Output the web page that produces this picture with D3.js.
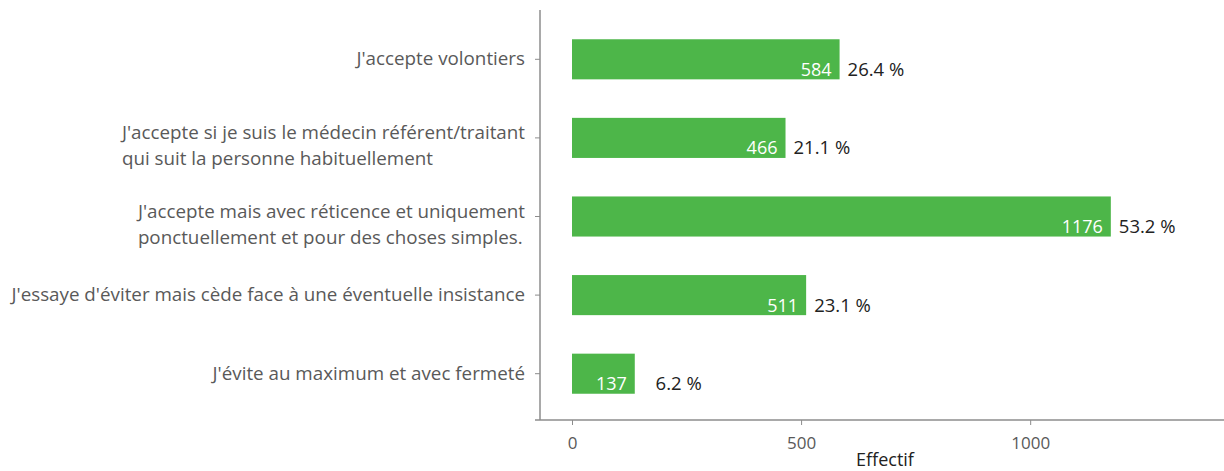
<!DOCTYPE html>
<head>
    <meta charset="utf-8">
    <style>
        html, body { margin: 0; padding: 0; background: #fff; }
        svg { display: block; }
        .cat { font: 18.8px "Open Sans", sans-serif; fill: #595959; }
        .tick text { font: 17px "Open Sans", sans-serif; fill: #595959; }
    </style>
    <script src="https://cdn.jsdelivr.net/npm/d3@7"></script>
</head>
<body>
    <div id="chart"></div>
    <script>
        // categories, top to bottom (each entry = lines of the label)
        var categories = [
            ["J'accepte volontiers "],
            ["J'accepte si je suis le médecin référent/traitant", "qui suit la personne habituellement"],
            ["J'accepte mais avec réticence et uniquement", "ponctuellement et pour des choses simples."],
            ["J'essaye d'éviter mais cède face à une éventuelle insistance"],
            ["J'évite au maximum et avec fermeté"]
        ];
        var counts = [584, 466, 1176, 511, 137];
        var percents = ["26.4 %", "21.1 %", "53.2 %", "23.1 %", "6.2 %"];
        var xTicks = [0, 500, 1000];

        var width = 1224, height = 471;
        var axisX = 540, axisY = 420;
        var green = "#4db649";

        var svg = d3.select("#chart").append("svg")
            .attr("width", width)
            .attr("height", height);

        var x = d3.scaleLinear().domain([0, 1423]).range([572, 1224]);
        var y = d3.scaleBand().domain(d3.range(counts.length))
            .range([20, 413]).paddingInner(0.49).paddingOuter(0.245);

        // bars
        svg.selectAll("rect.bar")
            .data(counts)
            .enter().append("rect")
            .attr("class", "bar")
            .attr("x", x(0))
            .attr("y", (d, i) => y(i))
            .attr("width", d => x(d) - x(0))
            .attr("height", y.bandwidth())
            .attr("fill", green);

        // value labels inside bars
        svg.selectAll("text.val")
            .data(counts)
            .enter().append("text")
            .attr("class", "val")
            .attr("x", d => x(d) - 8)
            .attr("y", (d, i) => y(i) + y.bandwidth() / 2 + 16.5)
            .attr("text-anchor", "end")
            .style("font", "18px 'Open Sans', sans-serif")
            .attr("fill", "#fff")
            .text(d => d);

        // percentages to the right
        svg.selectAll("text.pct")
            .data(counts)
            .enter().append("text")
            .attr("class", "pct")
            .attr("x", d => x(Math.max(d, 165)) + 8)
            .attr("y", (d, i) => y(i) + y.bandwidth() / 2 + 16.5)
            .style("font", "18.5px 'Open Sans', sans-serif")
            .attr("fill", "#222")
            .text((d, i) => percents[i]);

        // y axis line + ticks
        svg.append("line")
            .attr("x1", axisX).attr("x2", axisX)
            .attr("y1", 10).attr("y2", axisY)
            .attr("stroke", "#8c8c8c").attr("stroke-width", 1.5);

        svg.selectAll("line.ytick")
            .data(counts)
            .enter().append("line")
            .attr("x1", axisX - 5).attr("x2", axisX)
            .attr("y1", (d, i) => y(i) + y.bandwidth() / 2)
            .attr("y2", (d, i) => y(i) + y.bandwidth() / 2)
            .attr("stroke", "#8c8c8c");

        // category labels: block right-aligned, lines left-aligned within block
        var cat = svg.selectAll("text.cat")
            .data(categories)
            .enter().append("text")
            .attr("class", "cat")
            .attr("y", (d, i) => y(i) + y.bandwidth() / 2 + (d.length > 1 ? 1 : 6));
        cat.selectAll("tspan")
            .data(d => d)
            .enter().append("tspan")
            .attr("dy", (d, j) => j ? 26 : 0)
            .text(d => d);
        cat.each(function () {
            var spans = d3.select(this).selectAll("tspan");
            var w = d3.max(spans.nodes(), n => n.getComputedTextLength());
            spans.attr("x", 525 - w);
        });

        // x axis
        var xAxis = svg.append("g")
            .attr("transform", "translate(0," + axisY + ")")
            .call(d3.axisBottom(x).tickValues(xTicks).tickSize(5).tickPadding(12).tickFormat(d3.format("d")));
        xAxis.select(".domain").remove();
        xAxis.selectAll(".tick line").attr("stroke", "#8c8c8c");
        xAxis.append("line")
            .attr("x1", axisX - 5).attr("x2", width)
            .attr("stroke", "#8c8c8c").attr("stroke-width", 1.5);

        svg.append("text")
            .attr("x", 885)
            .attr("y", 466)
            .attr("text-anchor", "middle")
            .style("font", "18px 'Open Sans', sans-serif")
            .attr("fill", "#222")
            .text("Effectif");
    </script>
</body>
